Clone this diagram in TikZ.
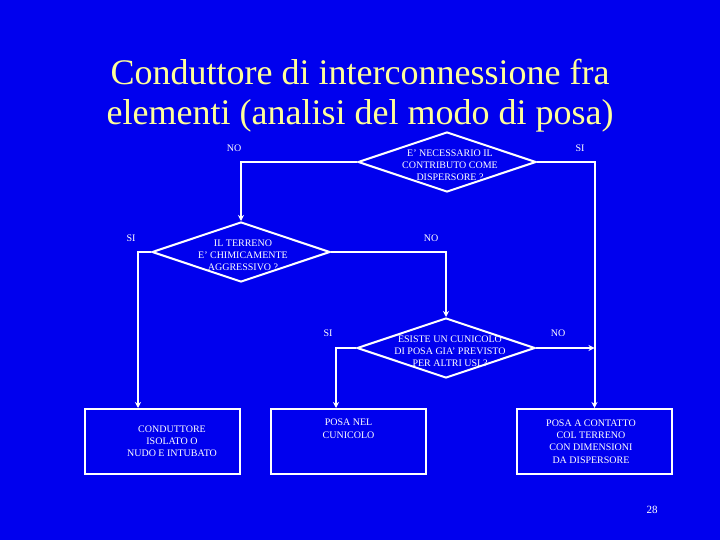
\documentclass[tikz,border=0pt]{standalone}
\usepackage{fontspec}
\setmainfont{Liberation Serif}
\usetikzlibrary{arrows.meta,positioning,shapes.geometric}
\definecolor{slideblue}{RGB}{0,0,238}
\definecolor{titleyellow}{RGB}{255,255,153}

\begin{document}
\begin{tikzpicture}[
  x=1pt, y=-1pt,
  >={Stealth[length=6pt,width=6pt]},
  dec/.style={diamond, draw=white, line width=2pt, inner sep=0pt,
              minimum width=178pt, minimum height=60pt},
  box/.style={draw=white, line width=2pt,
              minimum width=155pt, minimum height=65pt},
  txt/.style={text=white, align=center, inner sep=0pt,
              font=\fontsize{10}{12.2}\selectfont},
  lbl/.style={text=white, inner sep=0pt, font=\fontsize{10}{12}\selectfont},
  arr/.style={->, draw=white, line width=2pt},
]

% ---- slide ----
\fill[slideblue] (0,0) rectangle (720,540);
\useasboundingbox (0,0) rectangle (720,540);

\node[text=titleyellow, align=center, font=\fontsize{36}{40}\selectfont]
  (title) at (360,96) {Conduttore di interconnessione fra\\elementi (analisi del modo di posa)};

% ---- decisions ----
\node[dec] (d1) at (447,162) {};
\node[txt] (d1t) at (450,165.5) {E’ NECESSARIO IL\\CONTRIBUTO COME\\DISPERSORE ?};

\node[dec] (d2) at (241,252) {};
\node[txt] (d2t) at (243,255) {IL TERRENO\\E’ CHIMICAMENTE\\AGGRESSIVO ?};

\node[dec] (d3) at (446,348) {};
\node[txt] (d3t) at (450,351) {ESISTE UN CUNICOLO\\DI POSA GIA’ PREVISTO\\PER ALTRI USI ?};

% ---- outcomes ----
\node[box] (b1) at (162.5,441.5) {};
\node[txt] (b1t) at (172,441) {CONDUTTORE\\ISOLATO O\\NUDO E INTUBATO};

\node[box] (b2) at (348.5,441.5) {};
\node[txt, below=11pt of b2.north] (b2t) {POSA NEL\\CUNICOLO};

\node[box] (b3) at (594.5,441.5) {};
\node[txt] (b3t) at (591,441.5) {POSA A CONTATTO\\COL TERRENO\\CON DIMENSIONI\\DA DISPERSORE};

% ---- answers ----
\node[lbl] (no1) at (234,148) {NO};
\node[lbl] (si1) at (580,148) {SI};
\node[lbl] (si2) at (131,238) {SI};
\node[lbl] (no2) at (431,238) {NO};
\node[lbl] (si3) at (328,333) {SI};
\node[lbl] (no3) at (558,333) {NO};

% ---- arrows ----
\draw[arr] (d1.west) -| (d2.north);
\draw[arr] (d1.east) -| (b3.north);
\draw[arr] (d2.west) -| ([xshift=-24.5pt]b1.north);
\draw[arr] (d2.east) -| (d3.north);
\draw[arr] (d3.west) -| ([xshift=-12.5pt]b2.north);
\draw[arr] (d3.east) -- (d3.east -| b3.north);

\node[text=white, font=\fontsize{11}{13}\selectfont] (pnum) at (652,510) {28};

\end{tikzpicture}
\end{document}
